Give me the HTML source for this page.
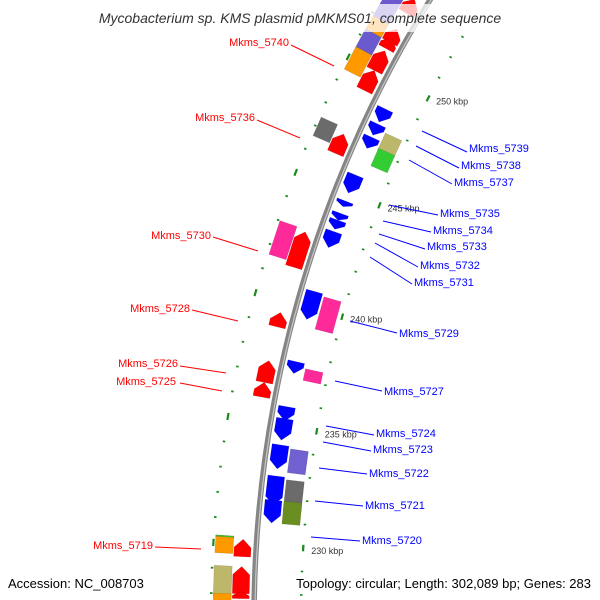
<!DOCTYPE html>
<html><head><meta charset="utf-8"><style>
html,body{margin:0;padding:0;background:#fff;overflow:hidden;width:600px;height:600px;}
svg{display:block;font-family:"Liberation Sans",sans-serif;}
</style></head><body>
<svg id="map" width="600" height="600" viewBox="0 0 600 600" xmlns="http://www.w3.org/2000/svg" overflow="hidden">
<rect width="600" height="600" fill="#fff"/>
<g id="ruler"></g>
<circle cx="1431" cy="619" r="1177" fill="none" stroke="#858585" stroke-width="5.5"/>
<circle cx="1431" cy="619" r="1176" fill="none" stroke="#c8c8c8" stroke-width="1.2"/>
<g id="features"></g>
<g id="labels" font-size="11"></g>
<rect x="0" y="4" width="600" height="28" fill="#fff" opacity="0.75"/>
<text x="300" y="23" text-anchor="middle" font-size="14" font-style="italic" fill="#333">Mycobacterium sp. KMS plasmid pMKMS01, complete sequence</text>
<text x="8" y="588" font-size="13" fill="#000">Accession: NC_008703</text>
<text x="591" y="588" text-anchor="end" font-size="13" fill="#000">Topology: circular; Length: 302,089 bp; Genes: 283</text>
</svg>
<script>
const CX = 1431, CY = 619;
const DEG_PER_KBP = 360 / 302.089;
// feature data (kbp)
const featStart = [252.65,251.3,251.0,250.0,249.1, 251.9,251.3,250.45,249.5, 246.3,246.6, 241.4,241.6, 238.9, 236.6,236.0, 229.5,228.0,227.8, 230.2,229.6,230.25,227.9,227.7,
  248.2,247.6,247.0,245.0,244.4,243.8,243.4,242.6,239.5,237.2,235.2,234.4,233.2,231.7,230.95,
  247.1,246.4,239.2,237.0,233.1,231.5,230.95];
const featEnd = [253.3,251.9,251.5,250.9,250.0, 253.2,251.9,251.3,250.5, 247.15,247.4, 242.9,243.0, 239.5, 237.5,236.6, 230.2,229.1,228.1, 230.3,230.3,230.3,229.1,228.0,
  248.8,248.1,247.5,245.8,244.65,244.1,243.8,243.3,240.7,237.7,235.8,235.3,234.2,232.9,231.9,
  247.9,247.2,240.6,237.5,234.1,232.8,231.9];
const featRing = [0,0,0,0,0, 1,1,1,1, 0,1, 0,1, 0, 0,0, 0,0,0, 1,1,1,1,1,
  2,2,2,2,2,2,2,2,2,2,2,2,2,2,2,
  3,3,3,3,3,3,3];
const featColor = ["#ff0000","#ff0000","#ff0000","#ff0000","#ff0000","#6a5acd","#ff9900","#6a5acd","#ff9900","#ff0000","#6b6b6b","#ff0000","#ff2a9a","#ff0000","#ff0000","#ff0000","#ff0000","#ff0000","#ff0000","#ff9900","#ff9900","#33cc33","#bdb76b","#ff9900",
  "#0000ff","#0000ff","#0000ff","#0000ff","#0000ff","#0000ff","#0000ff","#0000ff","#0000ff","#0000ff","#0000ff","#0000ff","#0000ff","#0000ff","#0000ff",
  "#bdb76b","#33cc33","#ff2a9a","#ff2a9a","#7060d0","#6b6b6b","#6b8e23"];
// ruler data
const rulerStartKbp = 227;
const rulerEndKbp = 254;
const tickLabels = [230,235,240,245,250];

const ringR = [[1182,1199],[1200,1218],[1155,1172],[1135,1153]];
function ang(k){ return (183.6 + (k-230)*DEG_PER_KBP) * Math.PI/180; }
function pt(k,r){ const a=ang(k); return [CX + r*Math.cos(a), CY + r*Math.sin(a)]; }
const NS="http://www.w3.org/2000/svg";
const fg=document.getElementById('features');
for(let i=0;i<featStart.length;i++){
  const ring=featRing[i], [r1,r2]=ringR[ring];
  let s=featStart[i], e=featEnd[i];
  const head = 0.33;
  let pts;
  const len=e-s;
  const h=Math.min(head,len*0.6);
  if(ring===0){
    pts=[pt(s,r1),pt(e-h,r1),pt(e,(r1+r2)/2),pt(e-h,r2),pt(s,r2)];
  } else if(ring===2){
    pts=[pt(e,r1),pt(s+h,r1),pt(s,(r1+r2)/2),pt(s+h,r2),pt(e,r2)];
  } else {
    pts=[pt(s,r1),pt(e,r1),pt(e,r2),pt(s,r2)];
  }
  const p=document.createElementNS(NS,'polygon');
  p.setAttribute('points',pts.map(q=>q[0].toFixed(1)+','+q[1].toFixed(1)).join(' '));
  p.setAttribute('fill',featColor[i]);
  p.setAttribute('stroke','rgba(0,0,0,0.15)');
  p.setAttribute('stroke-width','0.6');
  
  
  fg.appendChild(p);
}
const rg=document.getElementById('ruler');
for(let k=rulerStartKbp;k<=rulerEndKbp;k++){
  const major = k%5===0;
  [1130,1220].forEach(r=>{
    const l=document.createElementNS(NS,'line');
    const hl = major?0.14:0.035;
    const a=pt(k-hl,r), b=pt(k+hl,r);
    l.setAttribute('x1',a[0]);l.setAttribute('y1',a[1]);l.setAttribute('x2',b[0]);l.setAttribute('y2',b[1]);
    l.setAttribute('stroke','#1a8a1a');
    l.setAttribute('stroke-width', major?'2.2':'2.5');
    
    
    rg.appendChild(l);
  });
}
tickLabels.forEach(k=>{
  const p=pt(k,1130);
  const t=document.createElementNS(NS,'text');
  t.setAttribute('x',(p[0]+8).toFixed(1));t.setAttribute('y',(p[1]+6).toFixed(1));
  t.setAttribute('font-size','9');t.setAttribute('fill','#333');
  
  
  t.textContent=k+' kbp';
  rg.appendChild(t);
});
const labelNames=["Mkms_5740","Mkms_5736","Mkms_5730","Mkms_5728","Mkms_5726","Mkms_5725","Mkms_5719",
 "Mkms_5739","Mkms_5738","Mkms_5737","Mkms_5735","Mkms_5734","Mkms_5733","Mkms_5732","Mkms_5731","Mkms_5729","Mkms_5727","Mkms_5724","Mkms_5723","Mkms_5722","Mkms_5721","Mkms_5720"];
const labelX=[289,255,211,190,178,176,153, 469,461,454,440,433,427,420,414,399,384,376,373,369,365,362];
const labelY=[46,121,239,312,367,385,549, 152,169,186,217,234,250,269,286,337,395,437,453,477,509,544];
const lineA=[[291,45,334,66],[257,120,300,138],[213,237,258,251],[192,310,238,321],[180,366,226,373],[180,383,222,391],[155,547,201,549],
 [422,131,467,152],[416,146,459,168],[409,160,452,184],[389,205,438,215],[383,221,431,232],[379,234,425,249],[375,243,418,267],[370,257,412,284],[350,321,397,333],[335,381,382,391],[326,426,374,435],[323,442,371,451],[319,468,367,474],[315,501,363,506],[311,537,360,541]];
const lg=document.getElementById('labels');
labelNames.forEach((n,i)=>{
  const left=i<7, col=left?'#ff0000':'#0000ff';
  const L=lineA[i];
  const l=document.createElementNS(NS,'line');
  l.setAttribute('x1',L[0]);l.setAttribute('y1',L[1]);l.setAttribute('x2',L[2]);l.setAttribute('y2',L[3]);
  l.setAttribute('stroke',col);l.setAttribute('stroke-width','1');
  
  
  lg.appendChild(l);
  const t=document.createElementNS(NS,'text');
  t.setAttribute('x',labelX[i]);t.setAttribute('y',labelY[i]);
  t.setAttribute('fill',col);
  if(left) t.setAttribute('text-anchor','end');
  
  
  t.textContent=n;
  lg.appendChild(t);
});
</script>
</body></html>
